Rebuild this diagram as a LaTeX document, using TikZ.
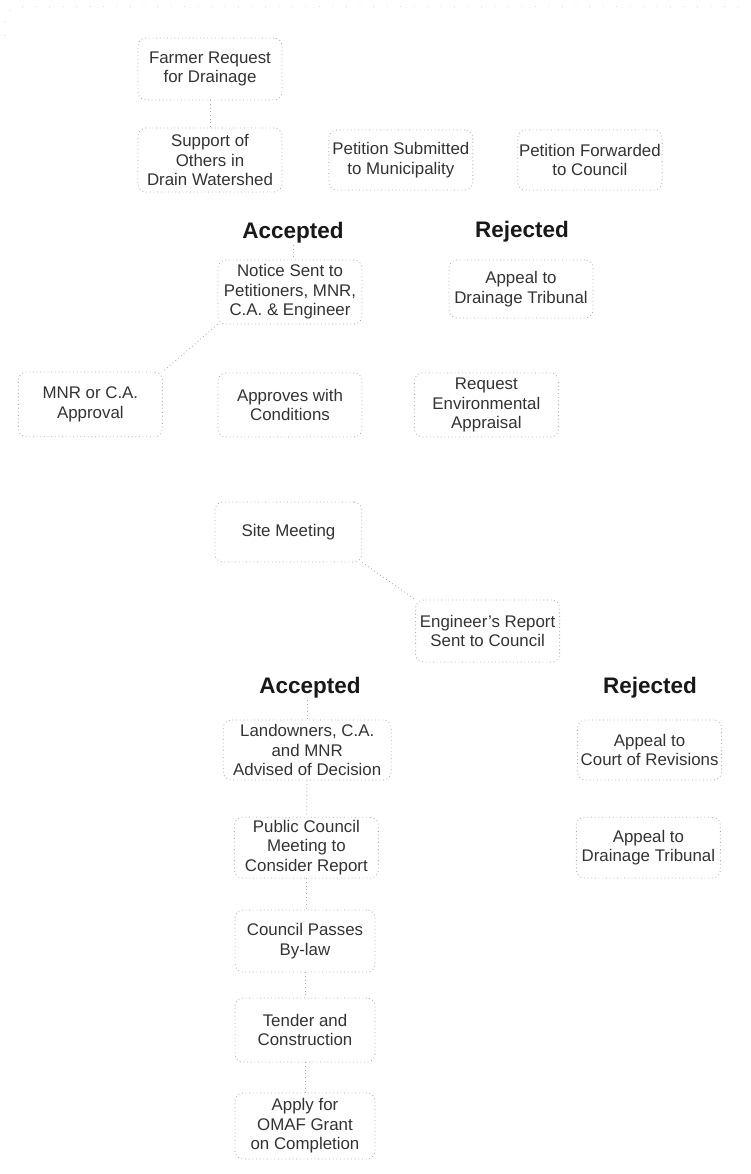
\documentclass[tikz,border=0pt]{standalone}
\usepackage{fontspec}
\setmainfont{Liberation Sans}
\usetikzlibrary{positioning}

\begin{document}
\begin{tikzpicture}[
    stage/.style={rectangle, rounded corners=0.2cm, draw=gray!65, dotted, line width=0.6pt, text=black!80, align=center, minimum width=3.6cm, minimum height=1.55cm, inner sep=1pt, font=\fontsize{12}{13.8}\selectfont},
    verdict/.style={font=\bfseries\fontsize{16}{19}\selectfont, text=black!90, inner sep=1pt},
    link/.style={draw=gray!65, dotted, line width=0.6pt},
    pagerule/.style={draw=gray!40, dash pattern=on 0.6pt off 9pt, line width=0.5pt}
]
\useasboundingbox (0,0) rectangle (18.75,-29.35);

\draw[pagerule, rounded corners=0.35cm] (0.12,-0.9) |- (18.65,-0.17);

% petition
\node[stage] (farmer) at (5.25,-1.725) {Farmer Request\\for Drainage};
\node[stage, minimum height=1.6cm] (support) at (5.25,-4.0) {Support of\\Others in\\Drain Watershed};
\node[stage, minimum height=1.5cm, right=1.15cm of support] (submitted) {Petition Submitted\\to Municipality};
\node[stage, minimum height=1.5cm, right=1.1cm of submitted] (forwarded) {Petition Forwarded\\to Council};

% first decision
\node[verdict] (acc1) at (7.325,-5.825) {Accepted};
\node[verdict] (rej1) at (13.05,-5.8) {Rejected};
\node[stage, minimum height=1.6cm] (notice) at (7.25,-7.3) {Notice Sent to\\Petitioners, MNR,\\C.A. \& Engineer};
\node[stage, minimum height=1.45cm] (tribunal1) at (13.025,-7.225) {Appeal to\\Drainage Tribunal};
\node[stage, minimum height=1.62cm] (mnr) at (2.26,-10.11) {MNR or C.A.\\Approval};
\node[stage, minimum height=1.6cm] (approves) at (7.25,-10.125) {Approves with\\Conditions};
\node[stage, minimum height=1.6cm] (appraisal) at (12.16,-10.125) {Request\\Environmental\\Appraisal};
\node[stage, minimum width=3.67cm, minimum height=1.5cm] (site) at (7.21,-13.3) {Site Meeting};
\node[stage] (report) at (12.19,-15.775) {Engineer's Report\\Sent to Council};

% second decision
\node[verdict] (acc2) at (7.75,-17.2) {Accepted};
\node[verdict] (rej2) at (16.25,-17.2) {Rejected};
\node[stage, minimum width=4.2cm, minimum height=1.5cm] (landowners) at (7.68,-18.75) {Landowners, C.A.\\and MNR\\Advised of Decision};
\node[stage, minimum height=1.5cm] (court) at (16.24,-18.75) {Appeal to\\Court of Revisions};
\node[stage, minimum height=1.52cm] (public) at (7.66,-21.19) {Public Council\\Meeting to\\Consider Report};
\node[stage, minimum height=1.52cm] (tribunal2) at (16.21,-21.19) {Appeal to\\Drainage Tribunal};
\node[stage, minimum width=3.5cm] (council) at (7.625,-23.525) {Council Passes\\By-law};
\node[stage, minimum width=3.5cm, minimum height=1.6cm] (tender) at (7.625,-25.75) {Tender and\\Construction};
\node[stage, minimum width=3.5cm, minimum height=1.65cm] (omaf) at (7.625,-28.15) {Apply for\\OMAF Grant\\on Completion};

\draw[link] (farmer) -- (support);
\draw[link] (acc1) -- (acc1 |- notice.north);
\draw[link] (notice.south west) -- (mnr.north east);
\draw[link] (site.south east) -- (report.north west);
\draw[link] (acc2.south -| landowners) -- (landowners);
\draw[link] (landowners) -- (public);
\draw[link] (public) -- (public |- council.north);
\draw[link] (council) -- (tender);
\draw[link] (tender) -- (omaf);

\end{tikzpicture}
\end{document}
